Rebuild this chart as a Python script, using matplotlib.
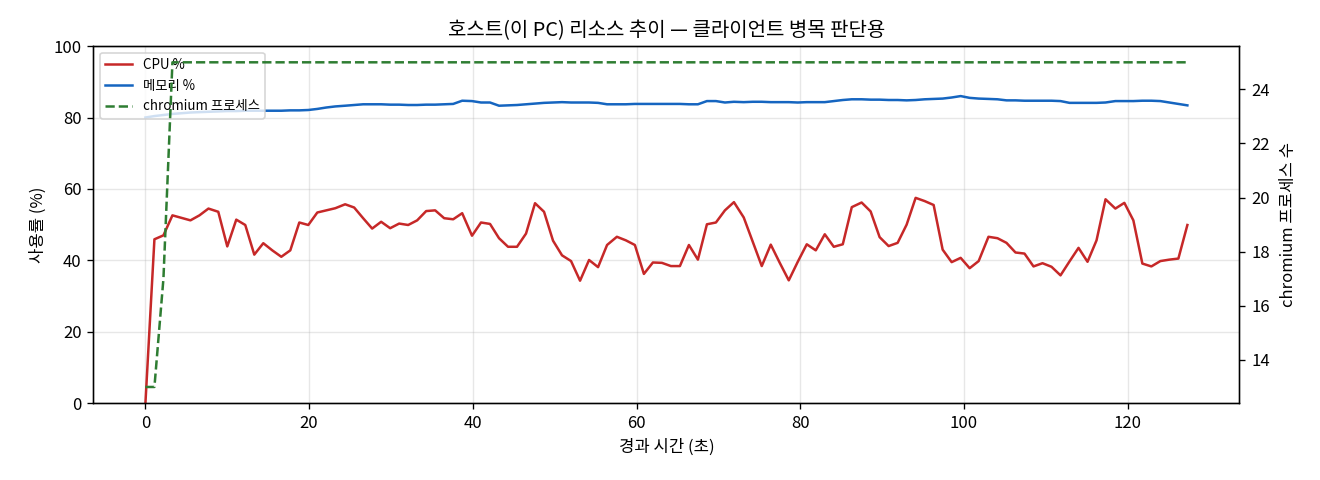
import matplotlib
matplotlib.use('Agg')
import matplotlib.pyplot as plt

plt.rcParams['font.family'] = ['Noto Sans CJK KR', 'DejaVu Sans']

# 경과 시간 (초)
elapsed = [0.0, 1.1, 2.2, 3.3, 4.4, 5.5, 6.6, 7.7, 8.9, 10.0,
           11.1, 12.2, 13.3, 14.4, 15.5, 16.6, 17.7, 18.8, 19.9, 21.0,
           22.1, 23.2, 24.4, 25.5, 26.6, 27.7, 28.8, 29.9, 31.0, 32.1,
           33.2, 34.3, 35.4, 36.5, 37.6, 38.7, 39.9, 41.0, 42.1, 43.2,
           44.3, 45.4, 46.5, 47.6, 48.7, 49.8, 50.9, 52.0, 53.1, 54.2,
           55.3, 56.4, 57.6, 58.7, 59.8, 60.9, 62.0, 63.1, 64.2, 65.3,
           66.4, 67.5, 68.6, 69.7, 70.8, 71.9, 73.1, 74.2, 75.3, 76.4,
           77.5, 78.6, 79.7, 80.8, 81.9, 83.0, 84.1, 85.2, 86.3, 87.5,
           88.6, 89.7, 90.8, 91.9, 93.0, 94.1, 95.2, 96.3, 97.4, 98.5,
           99.6, 100.7, 101.8, 103.0, 104.1, 105.2, 106.3, 107.4, 108.5, 109.6,
           110.7, 111.8, 112.9, 114.0, 115.1, 116.2, 117.3, 118.5, 119.6, 120.7,
           121.8, 122.9, 124.0, 125.1, 126.2, 127.3]

cpu = [0.0, 45.9, 47.0, 52.6, 51.9, 51.2, 52.6, 54.5, 53.6, 43.9,
       51.4, 49.9, 41.6, 44.8, 42.8, 41.0, 42.8, 50.6, 49.9, 53.4,
       54.0, 54.6, 55.7, 54.8, 51.8, 48.9, 50.8, 49.0, 50.3, 49.9,
       51.2, 53.8, 54.0, 51.8, 51.5, 53.2, 46.9, 50.6, 50.2, 46.2,
       43.8, 43.8, 47.5, 56.0, 53.6, 45.5, 41.4, 39.8, 34.3, 40.1,
       38.1, 44.3, 46.6, 45.6, 44.3, 36.2, 39.4, 39.3, 38.4, 38.4,
       44.3, 40.2, 50.1, 50.6, 54.0, 56.3, 52.0, 45.2, 38.4, 44.4,
       39.3, 34.4, 39.6, 44.5, 42.8, 47.3, 43.8, 44.5, 54.9, 56.2,
       53.7, 46.5, 44.0, 44.9, 50.0, 57.5, 56.6, 55.5, 43.0, 39.5,
       40.7, 37.8, 39.8, 46.6, 46.2, 44.9, 42.2, 41.9, 38.3, 39.2,
       38.2, 35.8, 39.7, 43.5, 39.6, 45.6, 57.1, 54.5, 56.1, 51.2,
       39.1, 38.3, 39.8, 40.2, 40.5, 49.9]

mem = [80.0, 80.4, 80.7, 81.0, 81.2, 81.4, 81.5, 81.6, 81.7, 81.8,
       81.8, 81.9, 81.9, 81.9, 81.9, 81.9, 82.0, 82.0, 82.1, 82.4,
       82.8, 83.1, 83.3, 83.5, 83.7, 83.7, 83.7, 83.6, 83.6, 83.5,
       83.5, 83.6, 83.6, 83.7, 83.8, 84.7, 84.6, 84.2, 84.2, 83.3,
       83.4, 83.5, 83.7, 83.9, 84.1, 84.2, 84.3, 84.2, 84.2, 84.2,
       84.1, 83.7, 83.7, 83.7, 83.8, 83.8, 83.8, 83.8, 83.8, 83.8,
       83.7, 83.7, 84.6, 84.6, 84.2, 84.4, 84.3, 84.4, 84.4, 84.3,
       84.3, 84.3, 84.2, 84.3, 84.3, 84.3, 84.6, 84.9, 85.1, 85.1,
       85.0, 85.0, 84.9, 84.9, 84.8, 84.9, 85.1, 85.2, 85.3, 85.6,
       86.0, 85.5, 85.3, 85.2, 85.1, 84.8, 84.8, 84.7, 84.7, 84.7,
       84.7, 84.6, 84.1, 84.1, 84.1, 84.1, 84.2, 84.6, 84.6, 84.6,
       84.7, 84.7, 84.6, 84.2, 83.8, 83.4]

chromium = [13, 13, 17] + [25] * 113

fig, ax1 = plt.subplots(figsize=(11, 4), dpi=120)
l1, = ax1.plot(elapsed, cpu, color='#c62828', lw=1.5, label='CPU %')
l2, = ax1.plot(elapsed, mem, color='#1565c0', lw=1.5, label='메모리 %')
ax1.set_ylim(0, 100)
ax1.set_xlabel('경과 시간 (초)')
ax1.set_ylabel('사용률 (%)')
ax1.grid(alpha=0.3)

ax2 = ax1.twinx()
l3, = ax2.plot(elapsed, chromium, color='#2e7d32', lw=1.5, ls='--', label='chromium 프로세스')
ax2.set_ylabel('chromium 프로세스 수', labelpad=6)

ax1.legend(handles=[l1, l2, l3], loc='upper left', fontsize=8)
ax1.set_title('호스트(이 PC) 리소스 추이 — 클라이언트 병목 판단용')

plt.subplots_adjust(left=0.0707, right=0.939, top=0.904, bottom=0.16)
plt.savefig('out.png')
